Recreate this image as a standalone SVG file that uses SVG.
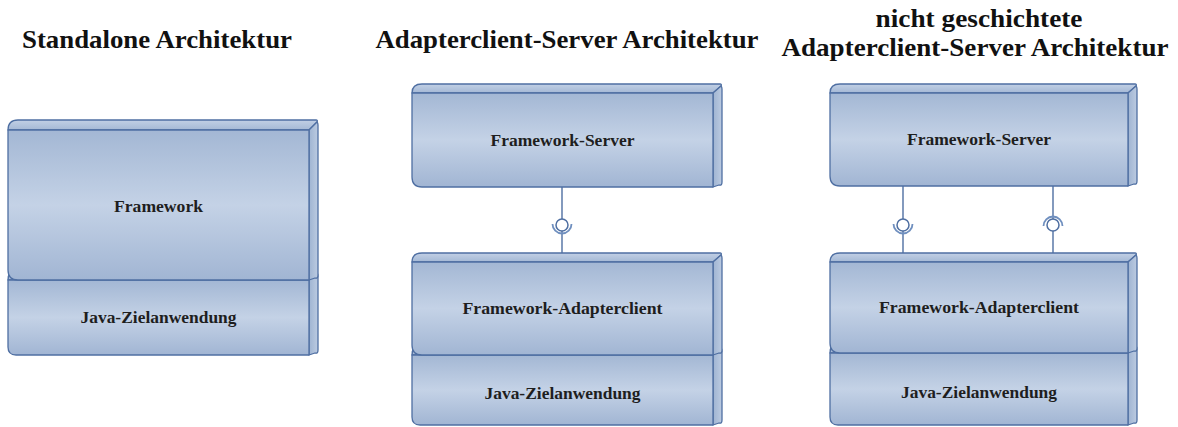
<svg xmlns="http://www.w3.org/2000/svg" width="1178" height="427" viewBox="0 0 1178 427">
  <defs>
    <linearGradient id="faceFill" x1="0" y1="0" x2="0" y2="1">
      <stop offset="0" stop-color="#a3b7d4"/>
      <stop offset="0.5" stop-color="#c4d2e6"/>
      <stop offset="1" stop-color="#a1b5d3"/>
    </linearGradient>
    <linearGradient id="topFill" x1="0" y1="0" x2="0" y2="1">
      <stop offset="0" stop-color="#c2d0e5"/>
      <stop offset="1" stop-color="#a4b8d5"/>
    </linearGradient>
    <linearGradient id="sideFill" x1="0" y1="0" x2="1" y2="0">
      <stop offset="0" stop-color="#9fb4d2"/>
      <stop offset="1" stop-color="#bccbe1"/>
    </linearGradient>
  </defs>
  <style>
    .bg { fill: #ffffff; }
    .front { fill: url(#faceFill); stroke: #4f6fa2; stroke-width: 1.3; stroke-linejoin: round; }
    .top { fill: url(#topFill); stroke: #4f6fa2; stroke-width: 1.3; stroke-linejoin: round; }
    .side { fill: url(#sideFill); stroke: #4f6fa2; stroke-width: 1.3; stroke-linejoin: round; }
    .title { font-family: "Liberation Serif", "DejaVu Serif", serif; font-weight: bold; font-size: 25px; fill: #111111; text-anchor: middle; }
    .label { font-family: "Liberation Serif", "DejaVu Serif", serif; font-weight: bold; font-size: 16.5px; fill: #1e1e1e; text-anchor: middle; }
    .wire { stroke: #4f6fa2; stroke-width: 1.4; fill: none; }
    .ball { stroke: #4f6fa2; stroke-width: 1.5; fill: #ffffff; }
    .cup { stroke: #6f8fbf; stroke-width: 1.8; fill: none; }
  </style>

  <rect class="bg" x="0" y="0" width="1178" height="427"/>

  <!-- headings -->
  <g id="titles">
    <text class="title" x="157" y="48" textLength="270" lengthAdjust="spacingAndGlyphs">Standalone Architektur</text>
    <text class="title" x="567" y="48" textLength="383" lengthAdjust="spacingAndGlyphs">Adapterclient-Server Architektur</text>
    <text class="title" x="979" y="27" textLength="207" lengthAdjust="spacingAndGlyphs">nicht geschichtete</text>
    <text class="title" x="975" y="56" textLength="387" lengthAdjust="spacingAndGlyphs">Adapterclient-Server Architektur</text>
  </g>

  <!-- connectors: lollipop/socket interfaces between server and client -->
  <g id="connectors">
    <line class="wire" x1="562" y1="187" x2="562" y2="219"/>
    <line class="wire" x1="562" y1="231" x2="562" y2="253"/>
    <circle class="ball" cx="562" cy="225" r="6"/>
    <path class="cup" d="M552.5,224 A9.5,9.5 0 0 0 571.5,224"/>

    <line class="wire" x1="903" y1="186" x2="903" y2="219"/>
    <line class="wire" x1="903" y1="231" x2="903" y2="253"/>
    <circle class="ball" cx="903" cy="225" r="6"/>
    <path class="cup" d="M893.5,224 A9.5,9.5 0 0 0 912.5,224"/>

    <line class="wire" x1="1053" y1="186" x2="1053" y2="219"/>
    <line class="wire" x1="1053" y1="231" x2="1053" y2="253"/>
    <circle class="ball" cx="1053" cy="225" r="6"/>
    <path class="cup" d="M1043.5,226 A9.5,9.5 0 0 1 1062.5,226"/>
  </g>

  <!-- Standalone column -->
  <g id="sa-java">
    <path class="top" d="M8,280 C8,274 11,271 16,271 L316,271 Q318,271 317,273 L309,280 Z"/>
    <path class="side" d="M309,280 L317,273 Q318,274 318,276 L318,350 Q318,354 315,353 L309,355 Z"/>
    <path class="front" d="M8,280 L309,280 L309,355 L16,355 Q8,355 8,347 Z"/>
    <text class="label" x="158.5" y="323" textLength="156" lengthAdjust="spacingAndGlyphs">Java-Zielanwendung</text>
  </g>
  <g id="sa-framework">
    <path class="top" d="M8,130 C8,124 11,120 18,120 L316,120 Q318,120 317,122 L309,130 Z"/>
    <path class="side" d="M309,130 L317,122 Q318,123 318,125 L318,275 Q318,279 315,278 L309,280 Z"/>
    <path class="front" d="M8,130 L309,130 L309,280 L18,280 Q8,280 8,270 Z"/>
    <text class="label" x="158.5" y="212" textLength="89" lengthAdjust="spacingAndGlyphs">Framework</text>
  </g>

  <!-- Adapterclient-Server column -->
  <g id="as-server">
    <path class="top" d="M412,93 C412,87 415,84 422,84 L720,84 Q722,84 721,86 L713,93 Z"/>
    <path class="side" d="M713,93 L721,86 Q722,87 722,89 L722,182 Q722,186 719,185 L713,187 Z"/>
    <path class="front" d="M412,93 L713,93 L713,187 L422,187 Q412,187 412,177 Z"/>
    <text class="label" x="562.5" y="146" textLength="144" lengthAdjust="spacingAndGlyphs">Framework-Server</text>
  </g>
  <g id="as-java">
    <path class="top" d="M412,355 C412,349 415,346 420,346 L720,346 Q722,346 721,348 L713,355 Z"/>
    <path class="side" d="M713,355 L721,348 Q722,349 722,351 L722,420 Q722,424 719,423 L713,425 Z"/>
    <path class="front" d="M412,355 L713,355 L713,425 L420,425 Q412,425 412,417 Z"/>
    <text class="label" x="562.5" y="399" textLength="156" lengthAdjust="spacingAndGlyphs">Java-Zielanwendung</text>
  </g>
  <g id="as-client">
    <path class="top" d="M412,262 C412,256 415,253 422,253 L720,253 Q722,253 721,255 L713,262 Z"/>
    <path class="side" d="M713,262 L721,255 Q722,256 722,258 L722,350 Q722,354 719,353 L713,355 Z"/>
    <path class="front" d="M412,262 L713,262 L713,355 L422,355 Q412,355 412,345 Z"/>
    <text class="label" x="562.5" y="314" textLength="200" lengthAdjust="spacingAndGlyphs">Framework-Adapterclient</text>
  </g>

  <!-- non-layered Adapterclient-Server column -->
  <g id="nl-server">
    <path class="top" d="M830,93 C830,87 833,84 840,84 L1135,84 Q1137,84 1136,86 L1128,93 Z"/>
    <path class="side" d="M1128,93 L1136,86 Q1137,87 1137,89 L1137,181 Q1137,185 1134,184 L1128,186 Z"/>
    <path class="front" d="M830,93 L1128,93 L1128,186 L840,186 Q830,186 830,176 Z"/>
    <text class="label" x="979" y="145" textLength="144" lengthAdjust="spacingAndGlyphs">Framework-Server</text>
  </g>
  <g id="nl-java">
    <path class="top" d="M830,353 C830,347 833,344 838,344 L1135,344 Q1137,344 1136,346 L1128,353 Z"/>
    <path class="side" d="M1128,353 L1136,346 Q1137,347 1137,349 L1137,420 Q1137,424 1134,423 L1128,425 Z"/>
    <path class="front" d="M830,353 L1128,353 L1128,425 L838,425 Q830,425 830,417 Z"/>
    <text class="label" x="979" y="398" textLength="156" lengthAdjust="spacingAndGlyphs">Java-Zielanwendung</text>
  </g>
  <g id="nl-client">
    <path class="top" d="M830,262 C830,256 833,253 840,253 L1135,253 Q1137,253 1136,255 L1128,262 Z"/>
    <path class="side" d="M1128,262 L1136,255 Q1137,256 1137,258 L1137,348 Q1137,352 1134,351 L1128,353 Z"/>
    <path class="front" d="M830,262 L1128,262 L1128,353 L840,353 Q830,353 830,343 Z"/>
    <text class="label" x="979" y="313" textLength="200" lengthAdjust="spacingAndGlyphs">Framework-Adapterclient</text>
  </g>
</svg>
